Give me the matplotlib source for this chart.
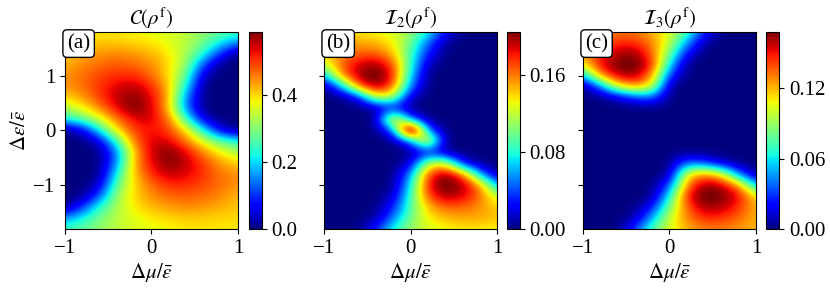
import numpy as np
import matplotlib
matplotlib.use('Agg')
import matplotlib.pyplot as plt

plt.rcParams['font.family'] = 'serif'
plt.rcParams['font.serif'] = ['Liberation Serif', 'DejaVu Serif']
plt.rcParams['mathtext.fontset'] = 'stix'
plt.rcParams['font.size'] = 15

# sample points of the maps (columns: delta mu, rows: delta eps from top to bottom)
mu_pts = [-1.0, -0.8, -0.6, -0.4, -0.2, 0.0, 0.2, 0.4, 0.6, 0.8, 1.0]
eps_pts = [1.8, 1.6, 1.4, 1.2, 1.0, 0.8, 0.6, 0.4, 0.2, 0.0,
           -0.2, -0.4, -0.6, -0.8, -1.0, -1.2, -1.4, -1.6, -1.8]

# C(rho^f)
coh = [
    [0.39, 0.39, 0.39, 0.39, 0.38, 0.37, 0.36, 0.34, 0.31, 0.28, 0.25],
    [0.40, 0.40, 0.41, 0.41, 0.40, 0.39, 0.37, 0.34, 0.29, 0.22, 0.16],
    [0.41, 0.43, 0.44, 0.45, 0.44, 0.42, 0.39, 0.33, 0.24, 0.10, 0.00],
    [0.42, 0.45, 0.47, 0.48, 0.47, 0.45, 0.40, 0.32, 0.12, 0.00, 0.00],
    [0.44, 0.47, 0.49, 0.51, 0.51, 0.47, 0.40, 0.28, 0.03, 0.00, 0.00],
    [0.45, 0.46, 0.51, 0.54, 0.56, 0.51, 0.42, 0.22, 0.00, 0.00, 0.00],
    [0.40, 0.44, 0.50, 0.56, 0.59, 0.54, 0.43, 0.15, 0.00, 0.00, 0.00],
    [0.33, 0.38, 0.45, 0.54, 0.60, 0.55, 0.42, 0.14, 0.00, 0.00, 0.00],
    [0.22, 0.28, 0.36, 0.46, 0.54, 0.55, 0.47, 0.25, 0.04, 0.00, 0.00],
    [0.00, 0.04, 0.22, 0.40, 0.50, 0.53, 0.50, 0.40, 0.22, 0.04, 0.00],
    [0.00, 0.00, 0.04, 0.25, 0.47, 0.55, 0.54, 0.46, 0.36, 0.28, 0.22],
    [0.00, 0.00, 0.00, 0.14, 0.42, 0.55, 0.60, 0.54, 0.45, 0.38, 0.33],
    [0.00, 0.00, 0.00, 0.15, 0.43, 0.54, 0.59, 0.56, 0.50, 0.44, 0.40],
    [0.00, 0.00, 0.00, 0.22, 0.42, 0.51, 0.56, 0.54, 0.51, 0.46, 0.45],
    [0.00, 0.00, 0.03, 0.28, 0.40, 0.47, 0.51, 0.51, 0.49, 0.47, 0.44],
    [0.00, 0.00, 0.12, 0.32, 0.40, 0.45, 0.47, 0.48, 0.47, 0.45, 0.42],
    [0.00, 0.10, 0.24, 0.33, 0.39, 0.42, 0.44, 0.45, 0.44, 0.43, 0.41],
    [0.16, 0.22, 0.29, 0.34, 0.37, 0.39, 0.40, 0.41, 0.41, 0.40, 0.40],
    [0.25, 0.28, 0.31, 0.34, 0.36, 0.37, 0.38, 0.39, 0.39, 0.39, 0.39],
]

# I_2(rho^f), panel (b)
i2 = [
    [0.13, 0.135, 0.135, 0.13, 0.125, 0.11, 0.08, 0.03, 0.0, 0.0, 0.0],
    [0.145, 0.15, 0.15, 0.145, 0.135, 0.10, 0.05, 0.005, 0.0, 0.0, 0.0],
    [0.14, 0.155, 0.165, 0.165, 0.145, 0.09, 0.03, 0.0, 0.0, 0.0, 0.0],
    [0.12, 0.165, 0.19, 0.20, 0.17, 0.085, 0.01, 0.0, 0.0, 0.0, 0.0],
    [0.06, 0.16, 0.20, 0.215, 0.185, 0.07, 0.0, 0.0, 0.0, 0.0, 0.0],
    [0.0, 0.06, 0.17, 0.205, 0.17, 0.05, 0.0, 0.0, 0.0, 0.0, 0.0],
    [0.0, 0.0, 0.02, 0.13, 0.12, 0.01, 0.0, 0.0, 0.0, 0.0, 0.0],
    [0.0, 0.0, 0.0, 0.0, 0.02, 0.0, 0.0, 0.0, 0.0, 0.0, 0.0],
    [0.0, 0.0, 0.0, 0.0, 0.17, 0.04, 0.0, 0.0, 0.0, 0.0, 0.0],
    [0.0, 0.0, 0.0, 0.0, 0.04, 0.30, 0.04, 0.0, 0.0, 0.0, 0.0],
    [0.0, 0.0, 0.0, 0.0, 0.0, 0.04, 0.17, 0.0, 0.0, 0.0, 0.0],
    [0.0, 0.0, 0.0, 0.0, 0.0, 0.0, 0.02, 0.0, 0.0, 0.0, 0.0],
    [0.0, 0.0, 0.0, 0.0, 0.0, 0.01, 0.12, 0.13, 0.02, 0.0, 0.0],
    [0.0, 0.0, 0.0, 0.0, 0.0, 0.05, 0.17, 0.205, 0.17, 0.06, 0.0],
    [0.0, 0.0, 0.0, 0.0, 0.0, 0.07, 0.185, 0.215, 0.20, 0.16, 0.06],
    [0.0, 0.0, 0.0, 0.0, 0.01, 0.085, 0.17, 0.20, 0.19, 0.165, 0.12],
    [0.0, 0.0, 0.0, 0.0, 0.03, 0.09, 0.145, 0.165, 0.165, 0.155, 0.14],
    [0.0, 0.0, 0.0, 0.005, 0.05, 0.10, 0.135, 0.145, 0.15, 0.15, 0.145],
    [0.0, 0.0, 0.0, 0.03, 0.08, 0.11, 0.125, 0.13, 0.135, 0.135, 0.13],
]

# I_3(rho^f), panel (c)
i3 = [
    [0.12, 0.125, 0.13, 0.13, 0.12, 0.105, 0.075, 0.03, 0.0, 0.0, 0.0],
    [0.12, 0.135, 0.145, 0.145, 0.13, 0.10, 0.05, 0.005, 0.0, 0.0, 0.0],
    [0.12, 0.145, 0.16, 0.165, 0.135, 0.085, 0.02, 0.0, 0.0, 0.0, 0.0],
    [0.11, 0.155, 0.17, 0.175, 0.15, 0.06, 0.0, 0.0, 0.0, 0.0, 0.0],
    [0.05, 0.13, 0.16, 0.165, 0.13, 0.03, 0.0, 0.0, 0.0, 0.0, 0.0],
    [0.0, 0.04, 0.11, 0.13, 0.11, 0.0, 0.0, 0.0, 0.0, 0.0, 0.0],
    [0.0, 0.0, 0.01, 0.03, 0.04, 0.0, 0.0, 0.0, 0.0, 0.0, 0.0],
    [0.0, 0.0, 0.0, 0.0, 0.0, 0.0, 0.0, 0.0, 0.0, 0.0, 0.0],
    [0.0, 0.0, 0.0, 0.0, 0.0, 0.0, 0.0, 0.0, 0.0, 0.0, 0.0],
    [0.0, 0.0, 0.0, 0.0, 0.0, 0.0, 0.0, 0.0, 0.0, 0.0, 0.0],
    [0.0, 0.0, 0.0, 0.0, 0.0, 0.0, 0.0, 0.0, 0.0, 0.0, 0.0],
    [0.0, 0.0, 0.0, 0.0, 0.0, 0.0, 0.0, 0.0, 0.0, 0.0, 0.0],
    [0.0, 0.0, 0.0, 0.0, 0.0, 0.0, 0.04, 0.03, 0.01, 0.0, 0.0],
    [0.0, 0.0, 0.0, 0.0, 0.0, 0.0, 0.11, 0.13, 0.11, 0.04, 0.0],
    [0.0, 0.0, 0.0, 0.0, 0.0, 0.03, 0.13, 0.165, 0.16, 0.13, 0.05],
    [0.0, 0.0, 0.0, 0.0, 0.0, 0.06, 0.15, 0.175, 0.17, 0.155, 0.11],
    [0.0, 0.0, 0.0, 0.0, 0.02, 0.085, 0.135, 0.165, 0.16, 0.145, 0.12],
    [0.0, 0.0, 0.0, 0.005, 0.05, 0.10, 0.13, 0.145, 0.145, 0.135, 0.12],
    [0.0, 0.0, 0.0, 0.03, 0.075, 0.105, 0.12, 0.13, 0.13, 0.125, 0.12],
]

titles = [r'$\mathcal{C}(\rho^{\rm f})$', r'$\mathcal{I}_2(\rho^{\rm f})$',
          r'$\mathcal{I}_3(\rho^{\rm f})$']
tags = ['(a)', '(b)', '(c)']
vmaxes = [0.59, 0.205, 0.168]
cb_ticks = [[0.0, 0.2, 0.4], [0.0, 0.08, 0.16], [0.0, 0.06, 0.12]]
cb_fmt = ['%.1f', '%.2f', '%.2f']

# figure geometry (fractions of the 830x289 canvas)
ax_left = [0.0783, 0.3904, 0.7024]
cb_left = [0.2994, 0.6108, 0.9229]
ax_w, cb_w = 0.2084, 0.0157
bot, hgt = 0.2076, 0.6817

dx = mu_pts[1] - mu_pts[0]
dy = eps_pts[0] - eps_pts[1]
ext = [mu_pts[0] - dx / 2, mu_pts[-1] + dx / 2, eps_pts[-1] - dy / 2, eps_pts[0] + dy / 2]

fig = plt.figure(figsize=(8.3, 2.89), dpi=100)

for k, data in enumerate([coh, i2, i3]):
    ax = fig.add_axes([ax_left[k], bot, ax_w, hgt])
    im = ax.imshow(np.array(data), cmap='jet', vmin=0, vmax=vmaxes[k],
                   extent=ext, aspect='auto', interpolation='bicubic')
    ax.set_xlim(-1, 1)
    ax.set_ylim(-1.8, 1.8)
    ax.set_xticks([-1, 0, 1])
    ax.set_yticks([-1, 0, 1])
    ax.set_xlabel(r'$\Delta\mu/\bar{\varepsilon}$', labelpad=2)
    if k == 0:
        ax.set_ylabel(r'$\Delta\varepsilon/\bar{\varepsilon}$', labelpad=2)
    else:
        ax.set_yticklabels([])
    ax.set_title(titles[k], fontsize=15, pad=5)
    ax.text(0.012, 0.99, tags[k], transform=ax.transAxes, ha='left', va='top',
            fontsize=15, bbox=dict(boxstyle='round,pad=0.2', fc='white', ec='black', lw=1))

    cax = fig.add_axes([cb_left[k], bot, cb_w, hgt])
    cb = fig.colorbar(im, cax=cax, ticks=cb_ticks[k], format=cb_fmt[k])
    cb.outline.set_linewidth(0.8)

plt.savefig('out.png', dpi=100)
